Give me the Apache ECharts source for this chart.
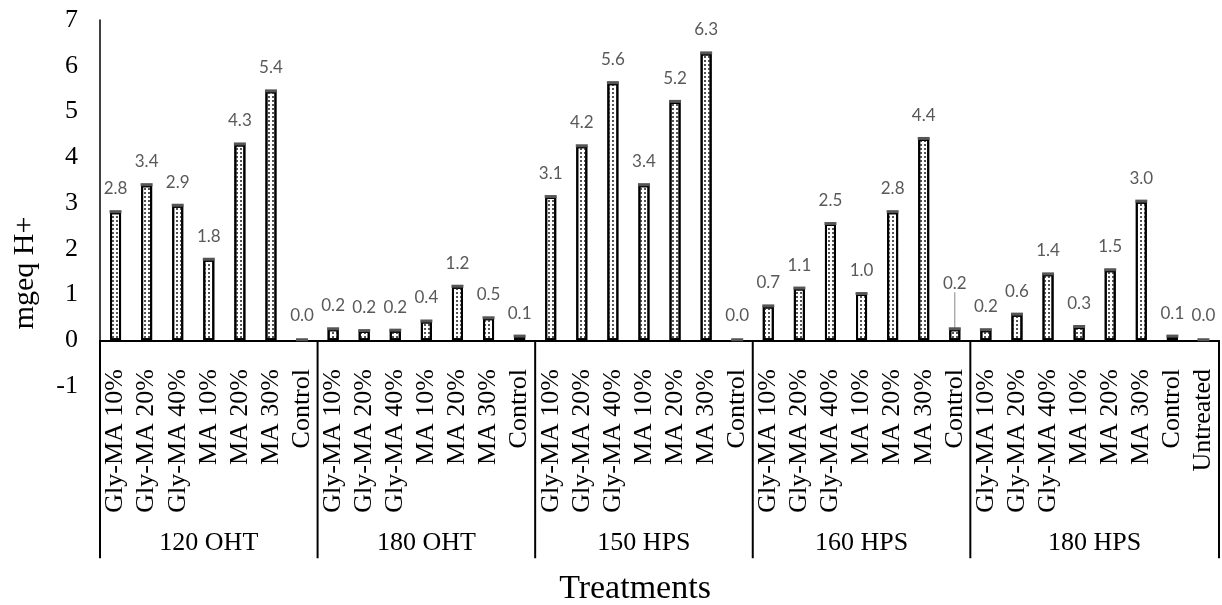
<!DOCTYPE html>
<html>
<head>
<meta charset="utf-8">
<script src="https://cdn.jsdelivr.net/npm/echarts@6/dist/echarts.min.js"></script>
<style>html,body{margin:0;padding:0;background:#fff;}#c{width:1222px;height:605px;}</style>
</head>
<body>
<div id="c"></div>
<script>
var groups = ['120 OHT', '180 OHT', '150 HPS', '160 HPS', '180 HPS'];
var groupSizes = [7, 7, 7, 7, 8];
var categories = [
  'Gly-MA 10%', 'Gly-MA 20%', 'Gly-MA 40%', 'MA 10%', 'MA 20%', 'MA 30%', 'Control',
  'Gly-MA 10%', 'Gly-MA 20%', 'Gly-MA 40%', 'MA 10%', 'MA 20%', 'MA 30%', 'Control',
  'Gly-MA 10%', 'Gly-MA 20%', 'Gly-MA 40%', 'MA 10%', 'MA 20%', 'MA 30%', 'Control',
  'Gly-MA 10%', 'Gly-MA 20%', 'Gly-MA 40%', 'MA 10%', 'MA 20%', 'MA 30%', 'Control',
  'Gly-MA 10%', 'Gly-MA 20%', 'Gly-MA 40%', 'MA 10%', 'MA 20%', 'MA 30%', 'Control', 'Untreated'
];
var values = [
  2.80, 3.39, 2.94, 1.76, 4.28, 5.44, 0.00,
  0.24, 0.20, 0.21, 0.41, 1.17, 0.48, 0.08,
  3.13, 4.24, 5.62, 3.39, 5.21, 6.27, 0.00,
  0.74, 1.13, 2.54, 1.01, 2.80, 4.40, 0.24,
  0.22, 0.56, 1.44, 0.29, 1.53, 3.03, 0.08, 0.00
];
var yTicks = { min: -1, max: 7, interval: 1 };
var raisedLabelIndex = 27;

var boundaries = [0];
var centers = [];
groupSizes.forEach(function (n) {
  var s = boundaries[boundaries.length - 1];
  centers.push(s + n / 2);
  boundaries.push(s + n);
});
var total = boundaries[boundaries.length - 1];

var serif = 'Liberation Serif';
var chart = echarts.init(document.getElementById('c'));

chart.setOption({
  animation: false,
  backgroundColor: '#fff',
  grid: { left: 100, right: 3, top: 20, bottom: 219 },
  xAxis: [{
    type: 'category',
    data: categories,
    axisLine: { onZero: true, lineStyle: { color: '#000', width: 2 } },
    axisTick: { show: false },
    axisLabel: { rotate: 90, interval: 0, margin: -17, color: '#000', fontFamily: serif, fontSize: 26 },
    splitLine: { show: false }
  }, {
    type: 'value',
    min: 0, max: total,
    show: false
  }],
  yAxis: {
    type: 'value',
    min: yTicks.min, max: yTicks.max, interval: yTicks.interval,
    axisLine: { show: true, lineStyle: { color: '#000', width: 1.5 } },
    axisTick: { show: false },
    splitLine: { show: false },
    axisLabel: { margin: 22, color: '#000', fontFamily: serif, fontSize: 26 }
  },
  graphic: [{
    type: 'text', x: 25, y: 273, rotation: Math.PI / 2,
    style: { text: 'mgeq H+', fill: '#000', font: '30px "Liberation Serif"', align: 'center', verticalAlign: 'middle' }
  }, {
    type: 'text', x: 635, y: 589,
    style: { text: 'Treatments', fill: '#000', font: '34px "Liberation Serif"', align: 'center', verticalAlign: 'middle' }
  }],
  series: [{
    type: 'bar',
    data: values.map(function (v, i) {
      return i === raisedLabelIndex ? { value: v, labelLine: { show: true } } : v;
    }),
    barWidth: 11,
    itemStyle: {
      color: '#fff', borderColor: '#000', borderWidth: 2,
      decal: { symbol: 'rect', symbolSize: 1, dashArrayX: [[1.5, 2]], dashArrayY: [1.5, 2], color: '#555', rotation: 0 }
    },
    label: {
      show: true, position: 'top', distance: 15,
      formatter: function (p) { return p.value.toFixed(1); },
      color: '#595959', fontFamily: 'Lato', fontSize: 17
    },
    labelLine: { show: false, lineStyle: { color: '#888', width: 1 } },
    labelLayout: function (p) {
      if (p.dataIndex === raisedLabelIndex) { return { dy: -22 }; }
      return {};
    },
    z: 2
  }, {
    type: 'custom',
    data: values.map(function (v, i) { return [i, v]; }),
    renderItem: function (params, api) {
      var pt = api.coord([api.value(0), api.value(1)]);
      return { type: 'rect', shape: { x: pt[0] - 6, y: pt[1] - 2, width: 12, height: 3 }, style: { fill: '#555' } };
    },
    z: 3
  }, {
    type: 'custom',
    xAxisIndex: 1,
    data: boundaries.map(function (b) { return [b]; }),
    renderItem: function (params, api) {
      var pt = api.coord([api.value(0), 0]);
      return { type: 'line', shape: { x1: pt[0], y1: pt[1], x2: pt[0], y2: pt[1] + 218 }, style: { stroke: '#000', lineWidth: 2 } };
    },
    z: 1
  }, {
    type: 'custom',
    xAxisIndex: 1,
    data: centers.map(function (c) { return [c]; }),
    renderItem: function (params, api) {
      var pt = api.coord([api.value(0), 0]);
      return { type: 'text', style: { text: groups[params.dataIndex], x: pt[0], y: pt[1] + 203, align: 'center', verticalAlign: 'middle', fill: '#000', font: '26px "Liberation Serif"' } };
    },
    z: 1
  }]
});
</script>
</body>
</html>
